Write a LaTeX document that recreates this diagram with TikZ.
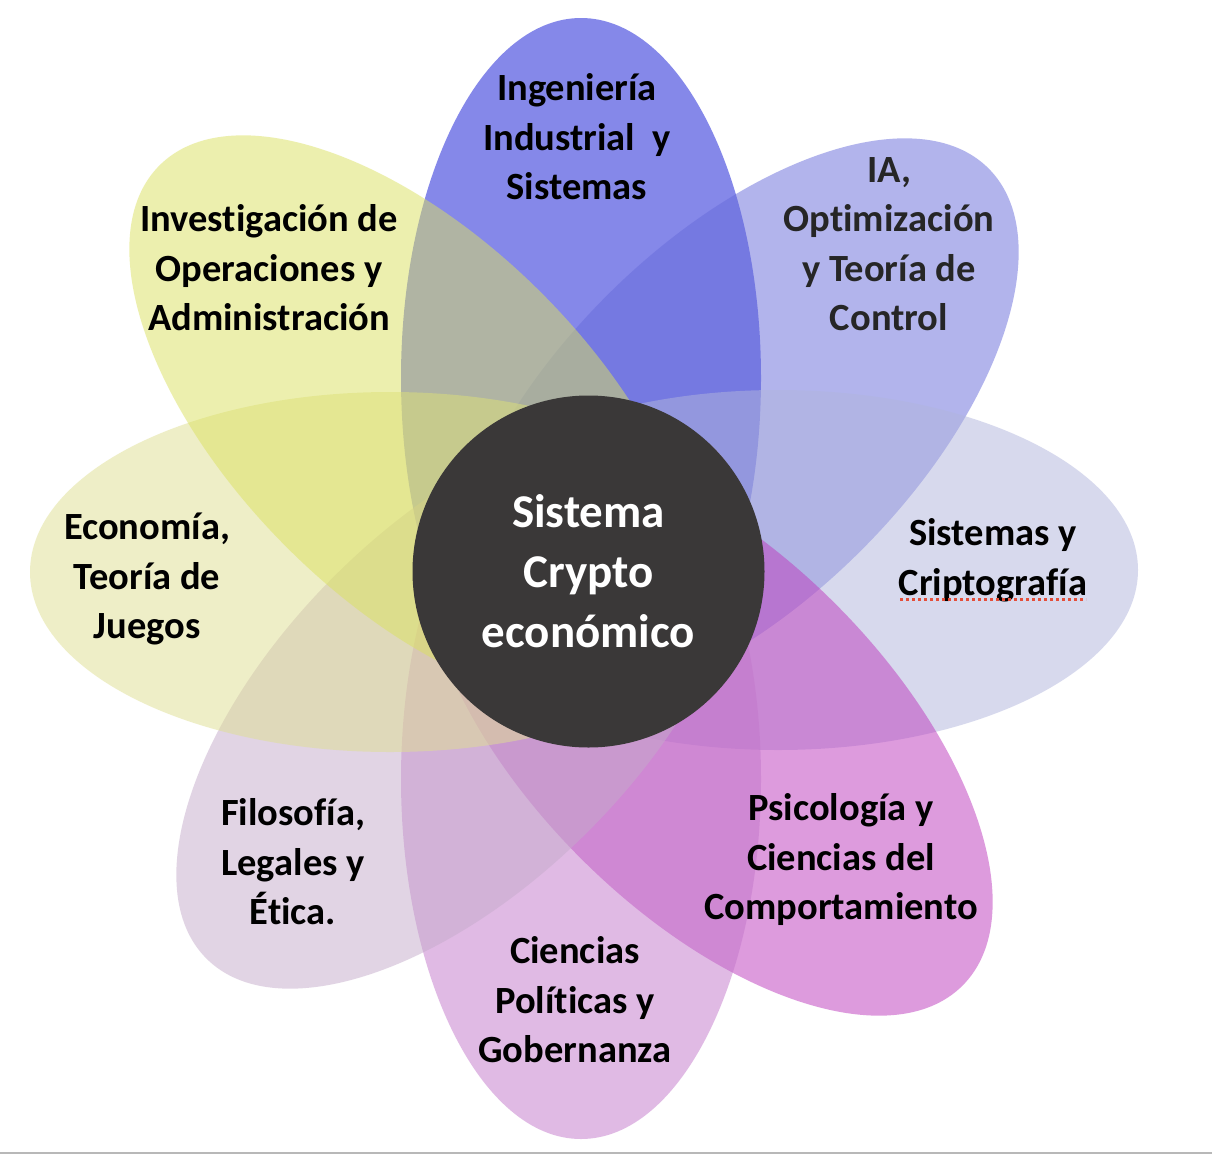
\documentclass[tikz,border=0pt]{standalone}
\usepackage{fontspec}
\setmainfont{Carlito}[Ligatures=NoCommon]
\usepackage{tikz}
\usetikzlibrary{positioning}

\definecolor{cTop}{RGB}{13,19,213}
\definecolor{cUR}{RGB}{103,107,219}
\definecolor{cRight}{RGB}{177,181,221}
\definecolor{cLR}{RGB}{189,57,189}
\definecolor{cBottom}{RGB}{195,119,203}
\definecolor{cLL}{RGB}{197,171,203}
\definecolor{cLeft}{RGB}{223,223,145}
\definecolor{cUL}{RGB}{219,225,95}
\definecolor{core}{RGB}{58,56,56}
\definecolor{spell}{RGB}{228,78,58}

\tikzset{
  petal/.style={fill opacity=0.5},
  tema/.style={font=\bfseries\fontsize{38.5}{49.5}\selectfont, align=center, text=black},
  nucleo/.style={circle, fill=core, minimum size=352pt, inner sep=0pt, text=white,
    font=\bfseries\fontsize{47}{60}\selectfont, align=center},
  borde/.style={draw=black!28, line width=2pt}
}

\begin{document}
\begin{tikzpicture}[x=1pt, y=-1pt]

\useasboundingbox (0,0) rectangle (1212,1154);
\fill[white] (0,0) rectangle (1212,1154);

% petals
\fill[petal, fill=cTop] (581,378) ellipse [x radius=180, y radius=360];
\fill[petal, fill=cUR, rotate around={45:(734,423)}] (734,423) ellipse [x radius=360, y radius=180];
\fill[petal, fill=cRight] (778,570) ellipse [x radius=360, y radius=180];
\fill[petal, fill=cLR, rotate around={-45:(708,731)}] (708,731) ellipse [x radius=360, y radius=180];
\fill[petal, fill=cBottom] (581,779) ellipse [x radius=180, y radius=360];
\fill[petal, fill=cLL, rotate around={45:(461,704)}] (461,704) ellipse [x radius=360, y radius=180];
\fill[petal, fill=cLeft] (390,572) ellipse [x radius=360, y radius=180];
\fill[petal, fill=cUL, rotate around={-45:(414,420)}] (414,420) ellipse [x radius=360, y radius=180];

\node[nucleo] (core) at (588.5,571.5) {Sistema\\Crypto\\económico};

\node[tema] (ing) at (577,137) {Ingeniería\\Industrial\ \ y\\Sistemas};
\node[tema, text=black!85] (ia) at (889,244) {IA,\\Optimización\\y Teoría de\\Control};
\node[tema] (cripto) at (993,560) {Sistemas y\\Criptografía};
\node[tema] (psico) at (841,860) {Psicología y\\Ciencias del\\Comportamiento};
\node[tema] (polit) at (575,1000) {Ciencias\\Políticas y\\Gobernanza};
\node[tema] (filo) at (293,862) {Filosofía,\\Legales y\\Ética.};
\node[tema] (econ) at (147,579) {Economía,\\Teoría de\\Juegos};
\node[tema] (oper) at (269,268) {Investigación de\\Operaciones y\\Administración};

\draw[spell, line width=3pt, dash pattern=on 3pt off 3pt] (900,599) -- (1086,599);

\draw[borde] (0,1153) -- (1212,1153);

\end{tikzpicture}
\end{document}
